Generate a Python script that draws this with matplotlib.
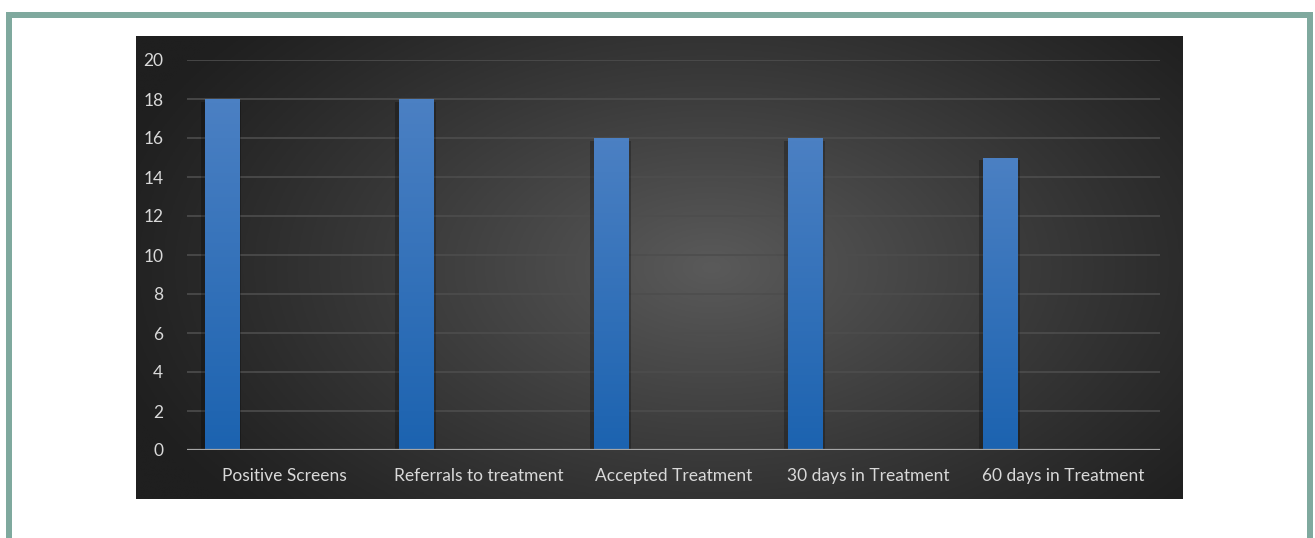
"""
Treatment funnel counts, dark Excel-style bar chart
"""

from matplotlib import pyplot as plt
from matplotlib.patches import Rectangle
import numpy as np

categories = ['Positive Screens', 'Referrals to treatment', 'Accepted Treatment',
              '30 days in Treatment', '60 days in Treatment']
counts = [18, 18, 16, 16, 15]
y_ticks = [0, 2, 4, 6, 8, 10, 12, 14, 16, 18, 20]

W, H = 1315, 538
fig = plt.figure(figsize=(W / 100, H / 100), dpi=100)
fig.patch.set_facecolor('white')
plt.rcParams['font.family'] = ['Lato', 'DejaVu Sans']


def box(x0, y0, x1, y1):
    # pixel box (top-left origin) -> figure fraction rect
    return [x0 / W, 1 - y1 / H, (x1 - x0) / W, (y1 - y0) / H]


# teal frame, open at the bottom
frame = fig.add_axes([0, 0, 1, 1])
frame.set_xlim(0, W)
frame.set_ylim(H, 0)
frame.axis('off')
teal = '#7fa99e'
frame.add_patch(Rectangle((6, 12), 1307, 6, color=teal, lw=0))
frame.add_patch(Rectangle((6, 12), 6, H, color=teal, lw=0))
frame.add_patch(Rectangle((1307, 12), 6, H, color=teal, lw=0))

# dark panel with radial gradient, a bit lighter toward centre-right
bg = fig.add_axes(box(136, 36, 1183, 499))
bg.axis('off')
gx, gy = np.meshgrid(np.linspace(0, 1, 400), np.linspace(0, 1, 200))
r = np.sqrt(((gx - 0.55) / 0.6) ** 2 + ((gy - 0.5) / 0.8) ** 2)
shade = np.clip(1 - r, 0, 1)
lo, hi = np.array([0x1f, 0x1f, 0x1f]) / 255, np.array([0x5a, 0x5a, 0x5a]) / 255
img = lo + (hi - lo) * shade[..., None] ** 1.1
bg.imshow(img, extent=[0, 1, 0, 1], aspect='auto', origin='lower')
bg.set_xlim(0, 1)
bg.set_ylim(0, 1)

ax = fig.add_axes(box(187, 60, 1160, 450))
ax.patch.set_alpha(0)
x = np.arange(len(categories))
w = 0.175
xb = x - 0.5 + 0.09 + w / 2

for yv in y_ticks[1:]:
    ax.axhline(yv, color='#4d4d4d', lw=1.2, zorder=1)
ax.axhline(0, color='#a6a6a6', lw=1.6, zorder=4)

# bar shadow and vertical blue gradient
grad = np.linspace(0, 1, 100)[:, None]
top, bot = np.array([0x4b, 0x80, 0xc3]) / 255, np.array([0x1c, 0x63, 0xb0]) / 255
bar_img = (bot + (top - bot) * grad[..., None]) * np.ones((100, 2, 3))
for xi, v in zip(xb, counts):
    ax.add_patch(Rectangle((xi - w / 2 - 0.02, 0), w + 0.035, v - 0.15,
                           color='black', alpha=0.25, lw=0, zorder=2))
    im = ax.imshow(bar_img, extent=[xi - w / 2, xi + w / 2, 0, v],
                   aspect='auto', origin='lower', zorder=3)
    clip = Rectangle((xi - w / 2, 0), w, v, transform=ax.transData)
    im.set_clip_path(clip)
ax.set_aspect('auto')
ax.set_xlim(-0.5, len(categories) - 0.5)
ax.set_ylim(0, 20)

ax.set_yticks(y_ticks)
ax.set_xticks(x)
ax.set_xticklabels(categories)
ax.tick_params(colors='#d9d9d9', labelsize=12.5, length=0)
ax.tick_params(axis='y', pad=17)
ax.tick_params(axis='x', pad=13)
for s in ax.spines.values():
    s.set_visible(False)

fig.savefig('out.png', dpi=100, facecolor='white')
